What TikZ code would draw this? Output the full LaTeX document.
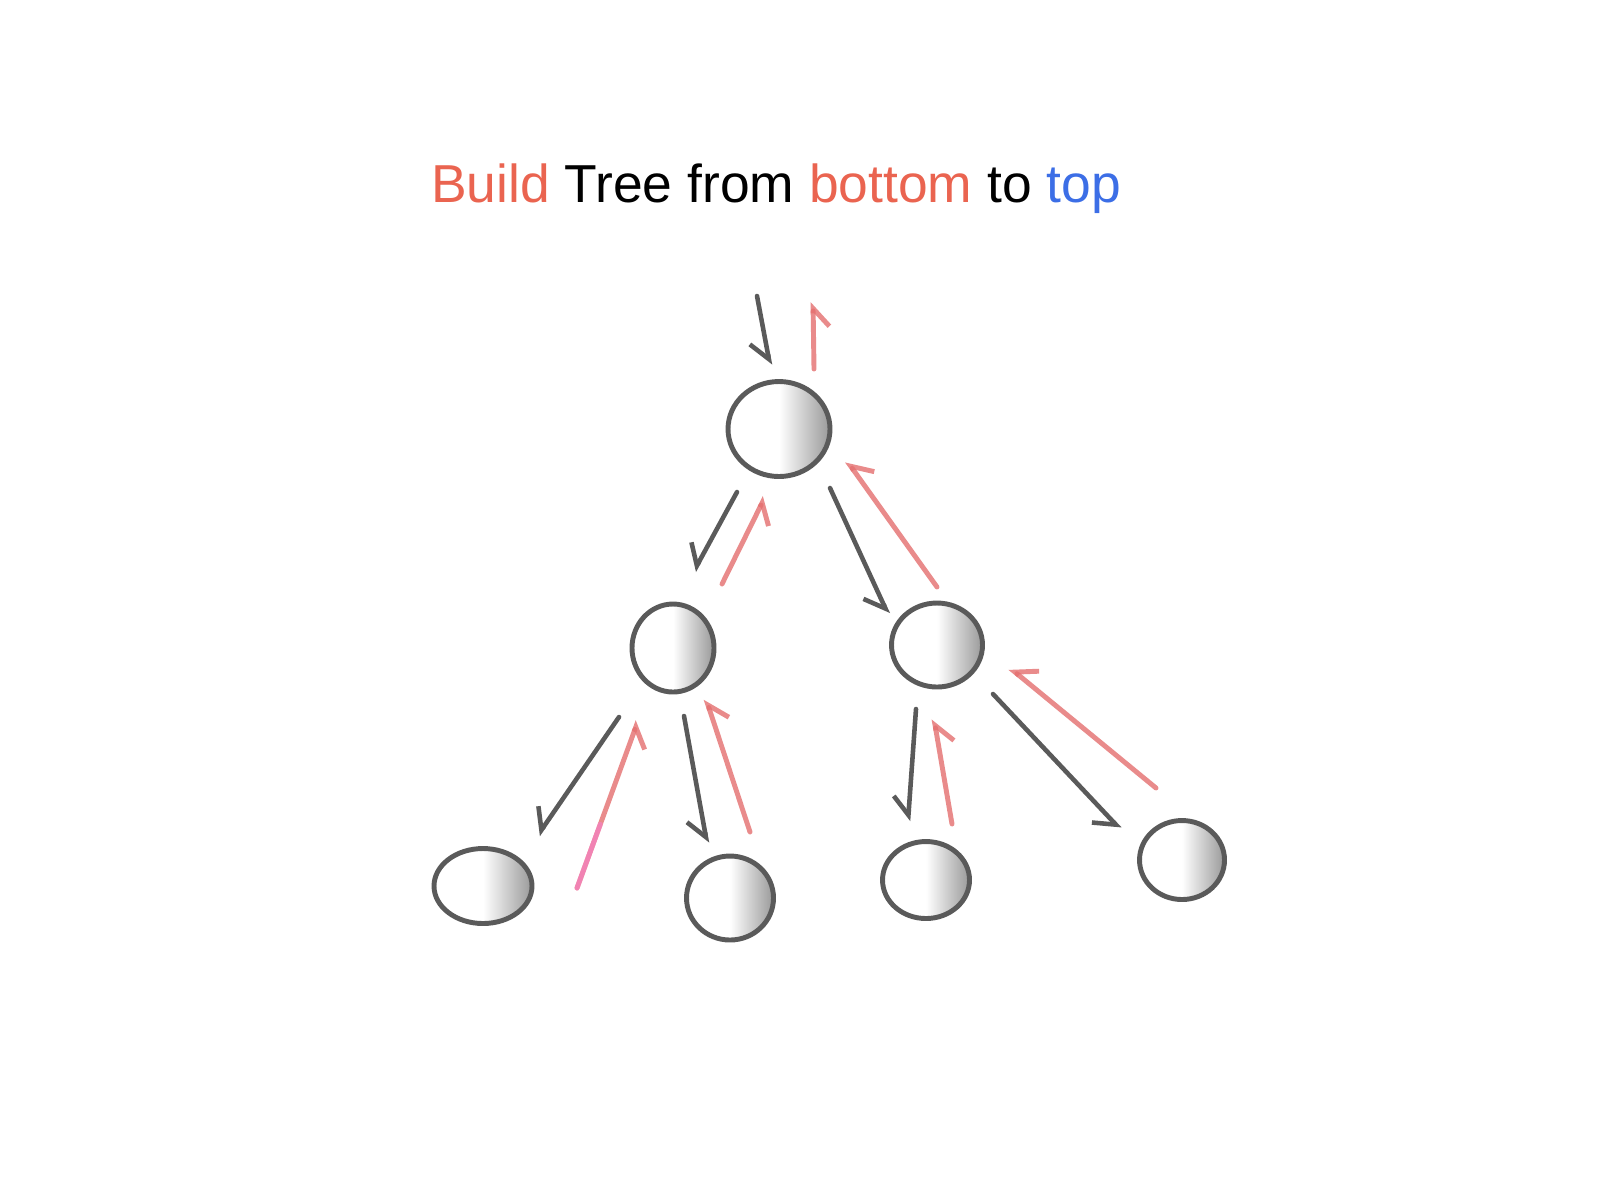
\documentclass[tikz,border=0pt]{standalone}
\usepackage{fontspec}
\setmainfont{Liberation Sans}
\usepackage{xcolor}
\usetikzlibrary{shapes,arrows.meta,positioning,calc}

\definecolor{buildred}{RGB}{234,100,80}
\definecolor{topblue}{RGB}{60,110,230}
\definecolor{penred}{RGB}{228,110,110}
\definecolor{pengray}{RGB}{90,90,90}

\begin{document}
\begin{tikzpicture}[
    ball/.style={ellipse, draw=pengray, line width=1.4pt, left color=white, right color=black!40, middle color=white, inner sep=0pt},
    down/.style={-{Straight Barb[right, length=1.8mm, width=3.2mm]}, draw=pengray, line width=1.3pt, line cap=round},
    up/.style={-{Straight Barb[right, length=1.8mm, width=3.2mm]}, draw=penred, draw opacity=.8, line width=1.4pt, line cap=round}
]
    \useasboundingbox (0,0) rectangle (16,-12);

    \node[anchor=base, font=\fontsize{15.2}{18}\selectfont] (title) at (7.76,-2.02)
        {\textcolor{buildred}{Build} Tree from \textcolor{buildred}{bottom} to \textcolor{topblue}{top}};

    % the tree
    \node[ball, minimum width=1.02cm, minimum height=0.95cm] (root) at (7.79,-4.29) {};
    \node[ball, minimum width=0.82cm, minimum height=0.88cm] (l) at (6.73,-6.48) {};
    \node[ball, minimum width=0.91cm, minimum height=0.84cm] (r) at (9.37,-6.45) {};
    \node[ball, minimum width=0.98cm, minimum height=0.75cm] (ll) at (4.83,-8.86) {};
    \node[ball, minimum width=0.87cm, minimum height=0.84cm] (lr) at (7.30,-8.98) {};
    \node[ball, minimum width=0.87cm, minimum height=0.77cm] (rl) at (9.26,-8.80) {};
    \node[ball, minimum width=0.85cm, minimum height=0.79cm] (rr) at (11.82,-8.60) {};

    % going down
    \draw[down] ([shift={(-0.22,1.33)}]root.center) -- ([shift={(-0.09,0.64)}]root.center);
    \draw[down] ([shift={(-0.42,-0.63)}]root.center) -- ([shift={(0.21,0.77)}]l.center);
    \draw[down] ([shift={(0.51,-0.59)}]root.center) -- ([shift={(-0.49,0.31)}]r.center);
    \draw[down] ([shift={(-0.54,-0.69)}]l.center) -- ([shift={(0.55,0.51)}]ll.center);
    \draw[down] ([shift={(0.11,-0.68)}]l.center) -- ([shift={(-0.23,0.55)}]lr.center);
    \draw[down] ([shift={(-0.21,-0.64)}]r.center) -- ([shift={(-0.18,0.59)}]rl.center);
    \draw[down] ([shift={(0.56,-0.49)}]r.center) -- ([shift={(-0.62,0.31)}]rr.center);

    % going up
    \draw[up] ([shift={(0.35,0.60)}]root.center) -- ([shift={(0.34,1.27)}]root.center);
    \draw[up] ([shift={(0.49,0.64)}]l.center) -- ([shift={(-0.14,-0.68)}]root.center);
    \draw[up] ([shift={(0,0.58)}]r.center) -- ([shift={(0.68,-0.32)}]root.center);
    \draw[up] ([shift={(0.94,-0.02)}]ll.center) -- ([shift={(-0.35,-0.73)}]l.center);
    \draw[draw=magenta!50, draw opacity=.7, line width=1.4pt, line cap=round, shorten >=1.1cm]
        ([shift={(0.94,-0.02)}]ll.center) -- ([shift={(-0.35,-0.73)}]l.center);
    \draw[up] ([shift={(0.20,0.66)}]lr.center) -- ([shift={(0.33,-0.51)}]l.center);
    \draw[up] ([shift={(0.26,0.56)}]rl.center) -- ([shift={(-0.03,-0.74)}]r.center);
    \draw[up] ([shift={(-0.26,0.72)}]rr.center) -- ([shift={(0.73,-0.23)}]r.center);
\end{tikzpicture}
\end{document}
